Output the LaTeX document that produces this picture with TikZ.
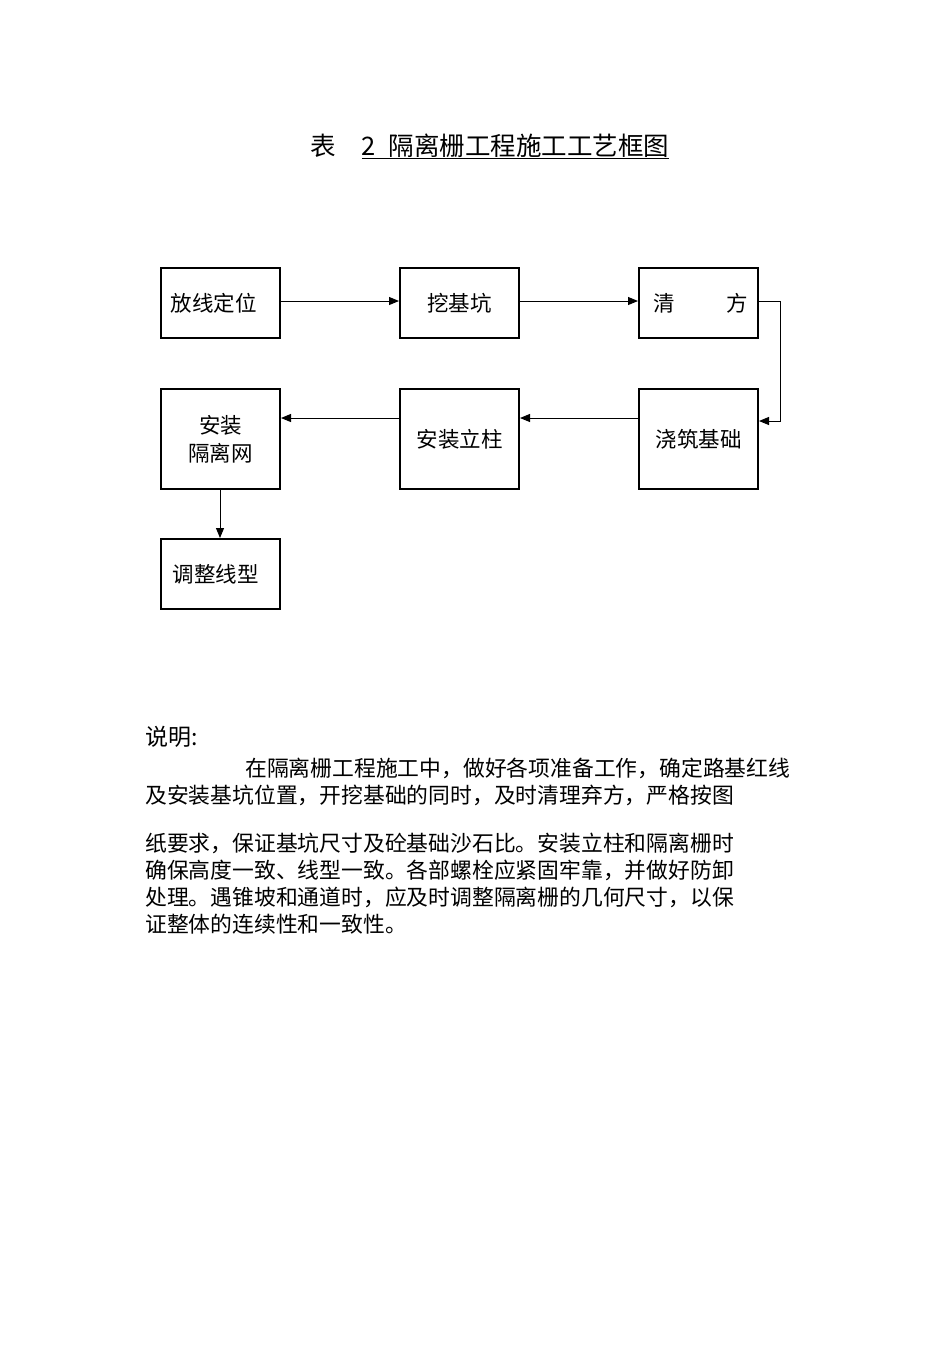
\documentclass[tikz,border=0pt]{standalone}
\usepackage{fontspec}
\setmainfont{Noto Sans CJK SC}
\usetikzlibrary{arrows.meta}
\begin{document}
\begin{tikzpicture}[x=1pt,y=-1pt,
 box/.style={draw,line width=2pt,minimum width=119pt,anchor=north west,inner sep=0pt,font=\fontsize{21.5}{24}\selectfont},
 arr/.style={-{Triangle[length=10pt,width=8pt]},line width=1pt},
 txt/.style={anchor=base west,inner sep=0pt,font=\fontsize{21.8}{27}\selectfont}]
\useasboundingbox (0,0) rectangle (950,1347);
\node[anchor=base,inner sep=0pt,font=\fontsize{25.5}{28}\selectfont] (title) at (490,155) {表\quad\underline{2\enspace 隔离栅工程施工工艺框图}};
\node[box,minimum height=70pt] (a) at (160,267) {放线定位\hspace*{14pt}};
\node[box,minimum height=70pt] (b) at (399,267) {挖基坑};
\node[box,minimum height=70pt] (c) at (638,267) {\hspace*{4pt}清\hspace{52pt}方};
\node[box,minimum height=100pt,align=center] (f) at (160,388) {安装\\[4pt]隔离网};
\node[box,minimum height=100pt] (e) at (399,388) {安装立柱};
\node[box,minimum height=100pt] (d) at (638,388) {浇筑基础};
\node[box,minimum height=70pt] (g) at (160,538) {调整线型\hspace*{10pt}};
\draw[arr] (a.east|-0,301) -- (b.west|-0,301);
\draw[arr] (b.east|-0,301) -- (c.west|-0,301);
\coordinate (r1) at (780,301);
\coordinate (r2) at (780,421);
\draw[arr] (c.east|-0,301) -- (r1) -- (r2) -- (d.east|-0,421);
\draw[arr] (d.west|-0,418) -- (e.east|-0,418);
\draw[arr] (e.west|-0,418) -- (f.east|-0,418);
\draw[arr] (220,488) -- (220,538);
\node[txt,font=\fontsize{23}{27}\selectfont] (n0) at (145,745) {说明:};
\node[txt] (n1) at (245,776) {在隔离栅工程施工中，做好各项准备工作，确定路基红线};
\node[txt] (n2) at (145,803) {及安装基坑位置，开挖基础的同时，及时清理弃方，严格按图};
\node[txt] (n3) at (145,851) {纸要求，保证基坑尺寸及砼基础沙石比。安装立柱和隔离栅时};
\node[txt] (n4) at (145,878) {确保高度一致、线型一致。各部螺栓应紧固牢靠，并做好防卸};
\node[txt] (n5) at (145,905) {处理。遇锥坡和通道时，应及时调整隔离栅的几何尺寸，以保};
\node[txt] (n6) at (145,932) {证整体的连续性和一致性。};
\end{tikzpicture}
\end{document}
